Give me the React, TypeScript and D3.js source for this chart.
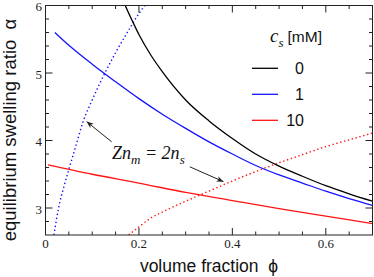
import * as d3 from "d3";

// tick values and labels
const phiTicks = [0, 0.2, 0.4, 0.6];
const phiTickLabels = ["0", "0.2", "0.4", "0.6"];
const phiMinor = [0.05, 0.1, 0.15, 0.25, 0.3, 0.35, 0.45, 0.5, 0.55, 0.65];
const alphaTicks = [3, 4, 5, 6];
const alphaTickLabels = ["3", "4", "5", "6"];
const alphaMinor = [2.8, 3.2, 3.4, 3.6, 3.8, 4.2, 4.4, 4.6, 4.8, 5.2, 5.4, 5.6, 5.8];

// equilibrium swelling ratio, c_s = 0, 1, 10 mM
const phi0 = [0.17, 0.188, 0.2, 0.225, 0.25, 0.3, 0.35, 0.4, 0.45, 0.5, 0.55, 0.6, 0.65, 0.7];
const alpha0 = [6.01, 5.74, 5.57, 5.27, 5.02, 4.6, 4.29, 4.03, 3.8, 3.62, 3.47, 3.33, 3.21, 3.1];
const phi1 = [0.02, 0.05, 0.1, 0.15, 0.2, 0.25, 0.3, 0.35, 0.4, 0.45, 0.5, 0.55, 0.6, 0.65, 0.7];
const alpha1 = [5.6, 5.41, 5.13, 4.87, 4.62, 4.39, 4.18, 3.98, 3.8, 3.63, 3.49, 3.37, 3.25, 3.14, 3.04];
const phi10 = [0.005, 0.1, 0.2, 0.3, 0.4, 0.5, 0.6, 0.7];
const alpha10 = [3.64, 3.5, 3.37, 3.23, 3.11, 2.99, 2.88, 2.77];

// Zn_m = 2n_s lines (dotted), c_s = 1 and 10 mM
const phiB1 = [0.018, 0.028, 0.04, 0.05, 0.065, 0.08, 0.1, 0.125, 0.15, 0.175, 0.2, 0.215];
const alphaB1 = [2.6, 3.0, 3.33, 3.57, 3.92, 4.27, 4.6, 4.97, 5.3, 5.6, 5.88, 6.02];
const phiB10 = [0.178, 0.2, 0.225, 0.25, 0.3, 0.35, 0.4, 0.45, 0.5, 0.55, 0.6, 0.65, 0.7];
const alphaB10 = [2.6, 2.72, 2.85, 2.94, 3.1, 3.25, 3.4, 3.54, 3.67, 3.79, 3.91, 4.01, 4.11];

const legendLabels = ["0", "1", "10"];
const colors = ["#000000", "#1414ff", "#ff1414"];

const width = 374;
const height = 277;
const left = 45.5;
const right = 372.5;
const top = 5.5;
const bottom = 235;

const serif = "'Liberation Serif', 'Times New Roman', serif";
const sans = "'Liberation Sans', Arial, Helvetica, sans-serif";

export default function App() {
  const x = d3.scaleLinear().domain([0, 0.7]).range([left, right]);
  const y = d3.scaleLinear().domain([2.6, 6]).range([bottom, top]);

  const line = (xs: number[], ys: number[]) =>
    d3
      .line<number>()
      .x((d, i) => x(xs[i]))
      .y((d, i) => y(ys[i]))
      .curve(d3.curveMonotoneX)(ys) as string;

  const solid = [
    line(phi0, alpha0),
    line(phi1, alpha1),
    line(phi10, alpha10),
  ];

  const arrows = [
    { x1: 0.1417, y1: 3.98, x2: 0.088, y2: 4.28 },
    { x1: 0.309, y1: 3.61, x2: 0.381, y2: 3.39 },
  ];

  return (
    <svg
      width={width}
      height={height}
      style={{ position: "absolute", left: 0, top: 0, background: "white" }}
    >
      <defs>
        <clipPath id="plot">
          <rect x={left} y={top} width={right - left} height={bottom - top} />
        </clipPath>
        <marker
          id="arr"
          viewBox="0 0 10 10"
          refX={10}
          refY={5}
          markerWidth={7}
          markerHeight={7}
          orient="auto"
          markerUnits="userSpaceOnUse"
        >
          <path d="M0,1 L10,5 L0,9 L3,5 Z" fill="#222" />
        </marker>
      </defs>

      <g clipPath="url(#plot)" fill="none">
        <path d={line(phiB1, alphaB1)} stroke={colors[1]} strokeWidth={1.4} strokeDasharray="1.4 2.6" />
        <path d={line(phiB10, alphaB10)} stroke={colors[2]} strokeWidth={1.4} strokeDasharray="1.4 2.6" />
        {solid.map((d, i) => (
          <path key={i} d={d} stroke={colors[i]} strokeWidth={1.3} />
        ))}
      </g>

      {/* frame and ticks on all four sides */}
      <rect x={left} y={top} width={right - left} height={bottom - top} fill="none" stroke="#222" strokeWidth={1} />
      <g stroke="#222" strokeWidth={1}>
        {phiTicks.map((t) => (
          <g key={"xm" + t}>
            <line x1={x(t)} x2={x(t)} y1={bottom} y2={bottom - 7} />
            <line x1={x(t)} x2={x(t)} y1={top} y2={top + 7} />
          </g>
        ))}
        {phiMinor.map((t) => (
          <g key={"xn" + t}>
            <line x1={x(t)} x2={x(t)} y1={bottom} y2={bottom - 3.5} />
            <line x1={x(t)} x2={x(t)} y1={top} y2={top + 3.5} />
          </g>
        ))}
        {alphaTicks.map((t) => (
          <g key={"ym" + t}>
            <line x1={left} x2={left + 7} y1={y(t)} y2={y(t)} />
            <line x1={right} x2={right - 7} y1={y(t)} y2={y(t)} />
          </g>
        ))}
        {alphaMinor.map((t) => (
          <g key={"yn" + t}>
            <line x1={left} x2={left + 3.5} y1={y(t)} y2={y(t)} />
            <line x1={right} x2={right - 3.5} y1={y(t)} y2={y(t)} />
          </g>
        ))}
      </g>

      <g fontFamily={serif} fontSize={13} fill="#222">
        {phiTicks.map((t, i) => (
          <text key={t} x={x(t)} y={247.5} textAnchor="middle">
            {phiTickLabels[i]}
          </text>
        ))}
        {alphaTicks.map((t, i) => (
          <text key={t} x={42} y={y(t) + 5.5} textAnchor="end">
            {alphaTickLabels[i]}
          </text>
        ))}
      </g>

      <text x={209} y={272} textAnchor="middle" fontFamily={sans} fontSize={17.5} fill="#111">
        volume fraction{"\u00a0\u00a0"}ϕ
      </text>
      <text
        transform="translate(16,130) rotate(-90)"
        textAnchor="middle"
        fontFamily={sans}
        fontSize={18.5}
        fill="#111"
      >
        equilibrium swelling ratio{"\u00a0\u00a0"}α
      </text>

      {/* legend */}
      <text x={270} y={42} fill="#111">
        <tspan fontFamily={serif} fontStyle="italic" fontSize={19}>c</tspan>
        <tspan fontFamily={serif} fontStyle="italic" fontSize={13} dy={5}>s</tspan>
        <tspan fontFamily={sans} fontSize={15.5} dy={-5} dx={4}>[mM]</tspan>
      </text>
      {legendLabels.map((l, i) => (
        <g key={l} transform={`translate(0, ${68.3 + i * 26})`}>
          <line x1={252} x2={278} y1={0} y2={0} stroke={colors[i]} strokeWidth={1.3} />
          <text x={304} y={6} textAnchor="end" fontFamily={sans} fontSize={16} fill="#111">
            {l}
          </text>
        </g>
      ))}

      {/* annotation */}
      {arrows.map((a, i) => (
        <line
          key={i}
          x1={x(a.x1)}
          y1={y(a.y1)}
          x2={x(a.x2)}
          y2={y(a.y2)}
          stroke="#222"
          strokeWidth={1}
          markerEnd="url(#arr)"
        />
      ))}
      <text x={x(0.1425)} y={y(3.73)} fontFamily={serif} fontStyle="italic" fontSize={18} fill="#111">
        Zn
        <tspan fontSize={13} dy={5}>m</tspan>
        <tspan dy={-5}> = 2n</tspan>
        <tspan fontSize={13} dy={5}>s</tspan>
      </text>
    </svg>
  );
}
